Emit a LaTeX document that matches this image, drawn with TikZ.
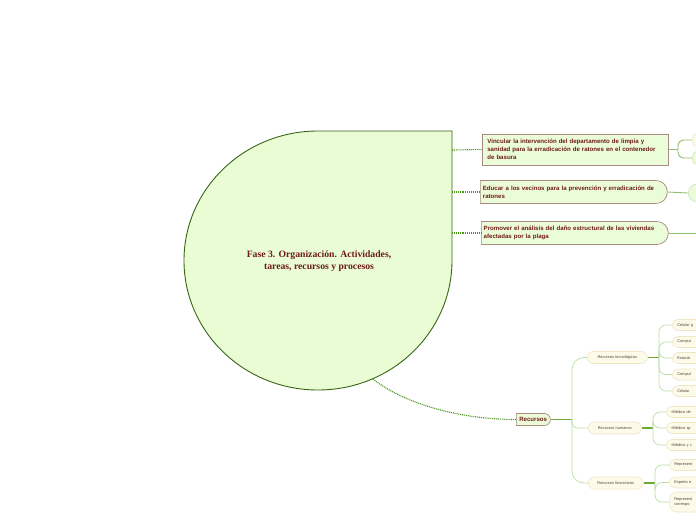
\documentclass[tikz,border=0pt]{standalone}
\usepackage{fontspec}
\setmainfont{Liberation Sans}
\newfontfamily\titlefont{Liberation Serif}
\usetikzlibrary{shapes.misc}
\definecolor{cfill}{HTML}{E9FCD3}
\definecolor{cborder}{HTML}{3A6518}
\definecolor{bfill}{HTML}{EBFCD8}
\definecolor{bborder}{HTML}{A88A80}
\definecolor{tred}{HTML}{701A1A}
\definecolor{dotgreen}{HTML}{4A9418}
\definecolor{thinc}{HTML}{BCDFA4}
\definecolor{midc}{HTML}{8FC070}
\definecolor{thickc}{HTML}{6CAA34}
\definecolor{pfill}{HTML}{FCFBEA}
\definecolor{pborder}{HTML}{EFE6C6}
\definecolor{gborder}{HTML}{CFE3BC}
\definecolor{ptext}{HTML}{5A4236}
\begin{document}
\begin{tikzpicture}[x=1pt,y=-1pt,
 branch/.style={draw=bborder, fill=bfill, line width=0.7pt, text=tred,
   font=\fontsize{6.1}{8}\selectfont\bfseries, align=left, anchor=west, inner xsep=5pt},
 boxnode/.style={branch, rectangle, minimum height=31pt},
 roundnode/.style={branch, rounded rectangle, rounded rectangle left arc=none, minimum height=23pt},
 pill/.style={draw=pborder, fill=pfill, line width=0.6pt, rounded corners=5.5pt, text=ptext,
   font=\fontsize{3.9}{4.6}\selectfont, align=left, anchor=west, inner xsep=5pt, inner ysep=1pt,
   minimum height=11pt, text width=40pt},
 midpill/.style={pill, align=center, minimum height=12pt, rounded corners=6pt},
 dotlink/.style={draw=dotgreen, line width=1.1pt, dash pattern=on 1pt off 0.9pt},
 thinlink/.style={draw=thinc, line width=0.7pt, rounded corners=7pt},
 midlink/.style={draw=midc, line width=0.9pt, rounded corners=6pt},
 thicklink/.style={draw=thickc, line width=1.3pt},
]
\useasboundingbox (0,0) rectangle (696,520);
\clip (0,0) rectangle (696,520);
\fill[white] (0,0) rectangle (696,520);

% central shape
\draw[fill=cfill, draw=cborder, line width=0.9pt] (452,131) -- (318,131)
  .. controls (244,131) and (184,189) .. (184,260.5)
  .. controls (184,332) and (244,390) .. (318,390)
  .. controls (392,390) and (452,332) .. (452,260.5) -- cycle;
\node[font=\titlefont\fontsize{9.7}{12.5}\selectfont\bfseries, text=tred, align=center] (central) at (319,261)
  {Fase 3. Organización. Actividades,\\tareas, recursos y procesos};
\coordinate (ca) at (452,150);
\coordinate (cb) at (452,192);
\coordinate (cc) at (452,233);
\coordinate (cd) at (373,379);

% main branches
\node[boxnode, minimum width=186pt, text width=176pt] (a) at (482,149.5)
  {Vincular la intervención del departamento de limpia y\\sanidad para la erradicación de ratones en el contenedor\\de basura};
\node[roundnode, minimum width=197pt, text width=180pt] (b) at (480,192)
  {Educar a los vecinos para la prevención y erradicación de\\ratones};
\node[roundnode, minimum width=197pt, text width=180pt] (c) at (481,233)
  {Promover el análisis del daño estructural de las viviendas\\afectadas por la plaga};
\node[roundnode, minimum height=12pt, minimum width=46pt, inner xsep=6pt] (rec) at (516,419.5) {Recursos};

\draw[dotlink] (ca) -- (a.west);
\draw[dotlink] (cb) -- (b.west);
\draw[dotlink] (cc) -- (c.west);
\draw[dotlink] (cd) .. controls (400,401) and (455,419.5) .. (rec.west);

% children of a, b, c
\coordinate (ja) at (678,149.5);
\node[pill, minimum height=14pt] (a1) at (692,140) {};
\node[pill, fill=bfill, draw=gborder, minimum height=14pt] (a2) at (692,158) {};
\draw[midlink] (a.east) -- (ja);
\draw[midlink] (ja) |- (a1.west);
\draw[midlink] (ja) |- (a2.west);
\node[pill, fill=bfill, draw=gborder, minimum height=18pt, rounded corners=9pt] (b1) at (688,193) {};
\draw[midlink] (b.east) -- (b1.west);
\coordinate (cend) at (697,233);
\draw[midlink] (c.east) -- (cend);

% Recursos tree
\coordinate (jr) at (572,419.5);
\draw[thicklink] (rec.east) -- (jr);
\node[midpill, text width=50pt] (tec) at (587,357.5) {Recursos tecnológicos};
\node[midpill, text width=43pt] (hum) at (588,428) {Recursos humanos};
\node[midpill, text width=45pt] (fin) at (588,483) {Recursos financieros};
\draw[thinlink, rounded corners=12pt] (jr) |- (tec.west);
\draw[thinlink, rounded corners=5pt] (jr) |- (hum.west);
\draw[thinlink, rounded corners=12pt] (jr) |- (fin.west);

% technological children
\coordinate (jt) at (659,357.5);
\draw[thicklink] (tec.east) -- (jt);
\node[pill] (t1) at (672,325) {Celular g};
\node[pill] (t2) at (672,342) {Comput};
\node[pill] (t3) at (672,358) {Estació};
\node[pill] (t4) at (672,374.5) {Comput};
\node[pill] (t5) at (672,391) {Celular};
\foreach \n in {t1,t2,t3,t4,t5} \draw[thinlink] (jt) |- (\n.west);

% human children
\coordinate (jh) at (653,428);
\draw[thicklink] (hum.east) -- (jh);
\node[pill] (h1) at (666,412) {•Médico de};
\node[pill] (h2) at (666,428) {•Médico sp};
\node[pill] (h3) at (666,445) {•Médico y c};
\foreach \n in {h1,h2,h3} \draw[thinlink] (jh) |- (\n.west);

% financial children
\coordinate (jf) at (655,483);
\draw[thicklink] (fin.east) -- (jf);
\node[pill] (f1) at (669,465) {Represent};
\node[pill] (f2) at (669,482.5) {Experto e};
\node[pill, minimum height=20pt, rounded corners=8pt] (f3) at (669,502) {Represent\\correspo};
\foreach \n in {f1,f2,f3} \draw[thinlink] (jf) |- (\n.west);
\end{tikzpicture}
\end{document}
